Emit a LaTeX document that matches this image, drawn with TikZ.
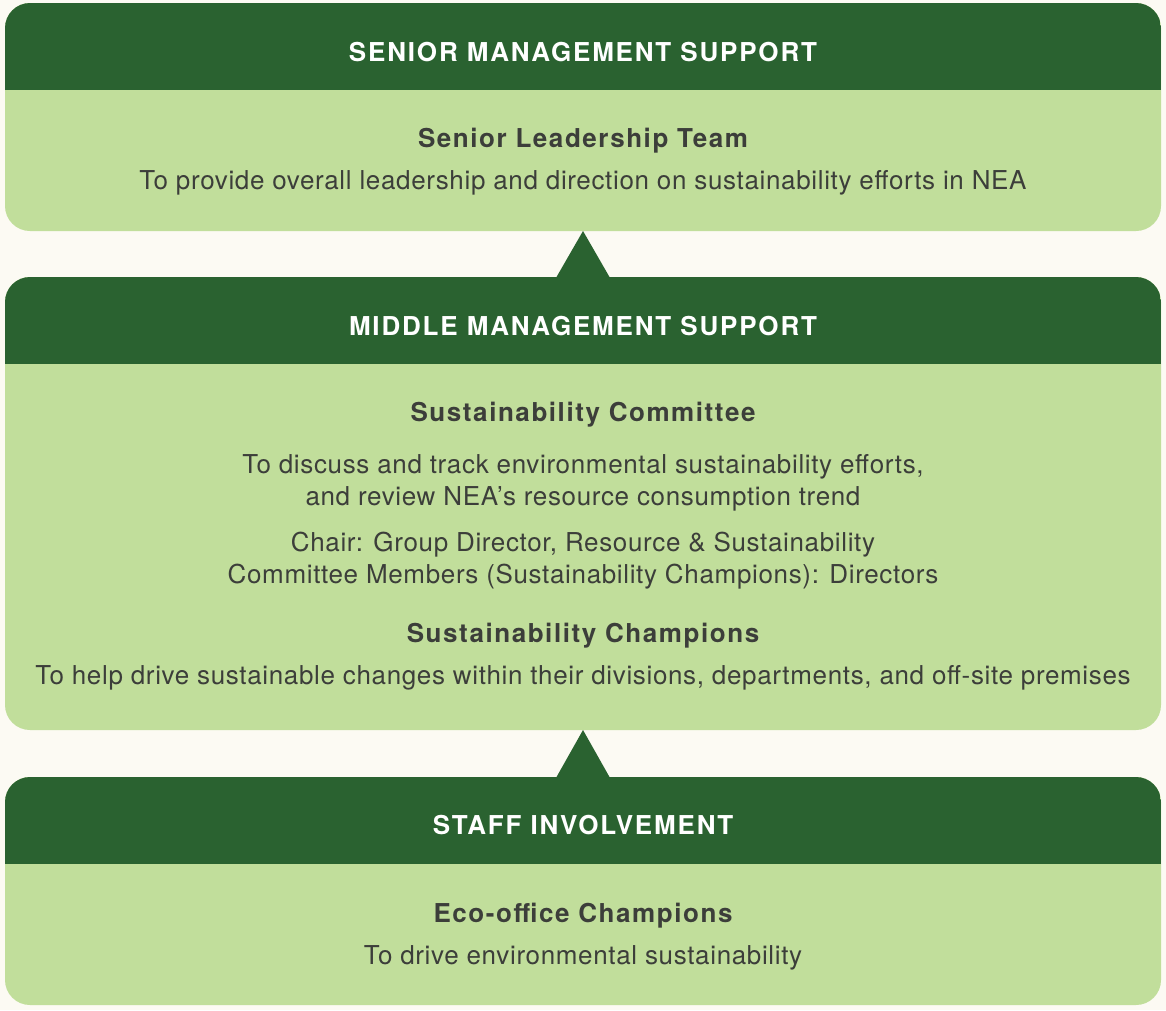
\documentclass[tikz,border=0pt]{standalone}
\usepackage{fontspec}
\setmainfont[LetterSpace=2.5]{TeX Gyre Heros}
\newfontfamily\capsfont[LetterSpace=7]{TeX Gyre Heros}
\newfontfamily\titlefont[LetterSpace=6]{TeX Gyre Heros}
\usetikzlibrary{calc}

\definecolor{cream}{RGB}{252,250,243}
\definecolor{bargreen}{RGB}{42,98,48}
\definecolor{panelgreen}{RGB}{193,222,155}
\definecolor{ink}{RGB}{60,62,58}

\begin{document}
\begin{tikzpicture}[x=1pt,y=-1pt,
    panel/.style={rounded corners=25pt,fill=panelgreen,minimum width=1156pt,
      inner sep=0pt,outer sep=0pt,
      path picture={\fill[bargreen,sharp corners] (path picture bounding box.north west)
        rectangle ([yshift=-87pt]path picture bounding box.north east);}},
    hdtext/.style={anchor=base,text=white,font=\capsfont\bfseries\fontsize{26}{32}\selectfont},
    tltext/.style={anchor=base,text=ink,font=\titlefont\bfseries\fontsize{26}{32}\selectfont},
    bdtext/.style={anchor=base,text=ink,align=center,font=\fontsize{26}{31.5}\selectfont}]

  \fill[cream] (0,0) rectangle (1166,1010);

  \node[panel,minimum height=228pt] (SM) at (583,117)   {};
  \node[panel,minimum height=453pt] (MM) at (583,503.5) {};
  \node[panel,minimum height=228pt] (SI) at (583,891)   {};

  % pointers up to the level above
  \fill[bargreen] ([xshift=-26.5pt]MM.north) -- (SM.south) -- ([xshift=26.5pt]MM.north) -- cycle;
  \fill[bargreen] ([xshift=-26.5pt]SI.north) -- (MM.south) -- ([xshift=26.5pt]SI.north) -- cycle;

  \node[hdtext] (SMhd) at (583,61)  {SENIOR MANAGEMENT SUPPORT};
  \node[tltext] (SMtl) at (583,147) {Senior Leadership Team};
  \node[bdtext] (SMbd) at (583,189) {To provide overall leadership and direction on sustainability efforts in NEA};

  \node[hdtext] (MMhd)  at (583,335) {MIDDLE MANAGEMENT SUPPORT};
  \node[tltext] (MMtl)  at (583,421) {Sustainability Committee};
  \node[bdtext] (MMbd)  at (583,505) {To discuss and track environmental sustainability efforts,\\
                                      and review NEA’s resource consumption trend};
  \node[bdtext] (MMch)  at (583,583) {Chair: Group Director, Resource \& Sustainability\\
                                      Committee Members (Sustainability Champions): Directors};
  \node[tltext] (MMtl2) at (583,642) {Sustainability Champions};
  \node[bdtext] (MMbd2) at (583,684) {To help drive sustainable changes within their divisions, departments, and off-site premises};

  \node[hdtext] (SIhd) at (583,834) {STAFF INVOLVEMENT};
  \node[tltext] (SItl) at (583,922) {Eco-office Champions};
  \node[bdtext] (SIbd) at (583,964) {To drive environmental sustainability};
\end{tikzpicture}
\end{document}
